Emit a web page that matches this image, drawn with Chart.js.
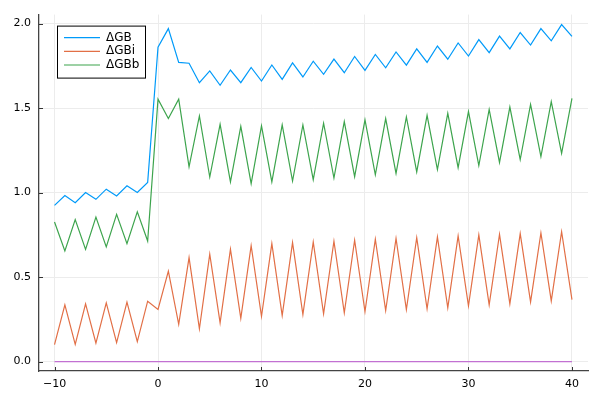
<!DOCTYPE html>
<html>
<head>
<meta charset="utf-8">
<script src="https://cdn.jsdelivr.net/npm/chart.js@4/dist/chart.umd.min.js"></script>
<style>
  html, body { margin: 0; padding: 0; background: #fff; }
  #plot { display: block; }
</style>
</head>
<body>
<canvas id="plot" width="600" height="400"></canvas>
<script>
const xValues = [-10, -9, -8, -7, -6, -5, -4, -3, -2, -1, 0, 1, 2, 3, 4, 5, 6, 7, 8, 9, 10,
    11, 12, 13, 14, 15, 16, 17, 18, 19, 20, 21, 22, 23, 24, 25, 26, 27, 28, 29, 30,
    31, 32, 33, 34, 35, 36, 37, 38, 39, 40];

const gb = [0.924, 0.982, 0.94, 1.0, 0.96, 1.02, 0.98, 1.04, 1.0, 1.06,
    1.86, 1.97, 1.77, 1.765, 1.65, 1.72, 1.635, 1.725, 1.65, 1.74, 1.66,
    1.755, 1.67, 1.767, 1.684, 1.777, 1.70, 1.79, 1.709, 1.805, 1.723,
    1.817, 1.738, 1.832, 1.754, 1.85, 1.77, 1.867, 1.789, 1.885, 1.808,
    1.905, 1.828, 1.926, 1.85, 1.947, 1.873, 1.97, 1.898, 1.994, 1.924];

const gbi = [0.1, 0.335, 0.102, 0.341, 0.109, 0.347, 0.112, 0.351, 0.118, 0.357,
    0.308, 0.535, 0.22, 0.615, 0.194, 0.635, 0.229, 0.665, 0.255, 0.686, 0.267,
    0.698, 0.272, 0.704, 0.278, 0.708, 0.282, 0.712, 0.288, 0.718, 0.296,
    0.724, 0.302, 0.729, 0.308, 0.733, 0.312, 0.737, 0.318, 0.743, 0.33,
    0.749, 0.335, 0.753, 0.341, 0.757, 0.353, 0.761, 0.359, 0.768, 0.366];

const gbb = [0.826, 0.654, 0.84, 0.664, 0.855, 0.678, 0.871, 0.697, 0.886, 0.713,
    1.553, 1.438, 1.553, 1.152, 1.453, 1.092, 1.404, 1.063, 1.392, 1.053, 1.395,
    1.063, 1.40, 1.068, 1.40, 1.076, 1.41, 1.086, 1.42, 1.094, 1.43,
    1.105, 1.438, 1.113, 1.447, 1.122, 1.457, 1.136, 1.469, 1.147, 1.479,
    1.16, 1.492, 1.178, 1.506, 1.195, 1.521, 1.213, 1.538, 1.232, 1.557];

// flat reference line at zero (not in legend)
const baseX = [-10, 40];
const baseY = [0, 0];

const xTicks = [-10, 0, 10, 20, 30, 40];
const yTicks = [0, 0.5, 1.0, 1.5, 2.0];

function pts(xs, ys) {
    return xs.map((x, i) => ({ x: x, y: ys[i] }));
}

const FONT = "'DejaVu Sans', sans-serif";

// legend drawn inside the plot, like the Plots.jl one
const insideLegend = {
    id: "insideLegend",
    afterDraw(chart) {
        const c = chart.ctx;
        const a = chart.chartArea;
        const items = chart.data.datasets.filter(d => d.label);
        const x0 = a.left + 18, y0 = a.top + 11;
        const w = 88, rowH = 13.7, h = 52;
        c.save();
        c.fillStyle = "#fff";
        c.fillRect(x0, y0, w, h);
        c.strokeStyle = "#000";
        c.lineWidth = 1;
        c.strokeRect(x0 + 0.5, y0 + 0.5, w, h);
        c.font = "12px " + FONT;
        c.textBaseline = "middle";
        items.forEach((d, i) => {
            const y = y0 + 12 + i * rowH;
            c.strokeStyle = d.borderColor;
            c.lineWidth = 1.2;
            c.beginPath();
            c.moveTo(x0 + 7, y);
            c.lineTo(x0 + 43, y);
            c.stroke();
            c.fillStyle = "#000";
            c.fillText(d.label, x0 + 49, y);
        });
        c.restore();
    }
};

// small inward tick marks on the axes
const innerTicks = {
    id: "innerTicks",
    afterDraw(chart) {
        const c = chart.ctx;
        const a = chart.chartArea;
        const sx = chart.scales.x, sy = chart.scales.y;
        c.save();
        c.strokeStyle = "#333";
        c.lineWidth = 1;
        c.beginPath();
        xTicks.forEach(v => {
            const px = Math.round(sx.getPixelForValue(v)) + 0.5;
            c.moveTo(px, a.bottom);
            c.lineTo(px, a.bottom - 4);
        });
        yTicks.forEach(v => {
            const py = Math.round(sy.getPixelForValue(v)) + 0.5;
            c.moveTo(a.left, py);
            c.lineTo(a.left + 4, py);
        });
        c.stroke();
        c.restore();
    }
};

new Chart(document.getElementById("plot").getContext("2d"), {
    type: "line",
    data: {
        datasets: [
            { label: "ΔGB", data: pts(xValues, gb), borderColor: "#009af9" },
            { label: "ΔGBi", data: pts(xValues, gbi), borderColor: "#e26f46" },
            { label: "ΔGBb", data: pts(xValues, gbb), borderColor: "#3da44d" },
            { label: "", data: pts(baseX, baseY), borderColor: "#c271d2" }
        ]
    },
    options: {
        responsive: false,
        animation: false,
        devicePixelRatio: 1,
        layout: { padding: { top: 12, right: 12, left: 0, bottom: 0 } },
        elements: {
            point: { radius: 0 },
            line: { borderWidth: 1.2, tension: 0 }
        },
        plugins: {
            legend: { display: false },
            tooltip: { enabled: false }
        },
        scales: {
            x: {
                type: "linear",
                min: -11.5,
                max: 41.55,
                afterBuildTicks: s => { s.ticks = xTicks.map(v => ({ value: v })); },
                afterFit: s => { s.height = 29; },
                grid: { color: "#ececec", lineWidth: 1, drawTicks: false },
                border: { color: "#444", width: 1.3 },
                ticks: {
                    padding: 7,
                    maxRotation: 0,
                    color: "#000",
                    font: { family: FONT, size: 11 },
                    callback: v => String(v).replace("-", "\u2212")
                }
            },
            y: {
                min: -0.056,
                max: 2.053,
                afterBuildTicks: s => { s.ticks = yTicks.map(v => ({ value: v })); },
                afterFit: s => { s.width = 39; },
                grid: { color: "#ececec", lineWidth: 1, drawTicks: false },
                border: { color: "#444", width: 1.3 },
                ticks: {
                    padding: 8,
                    color: "#000",
                    font: { family: FONT, size: 11 },
                    callback: v => v.toFixed(1)
                }
            }
        }
    },
    plugins: [insideLegend, innerTicks]
});
</script>
</body>
</html>
